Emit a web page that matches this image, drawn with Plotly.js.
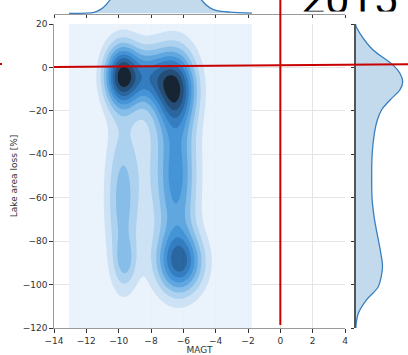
<!DOCTYPE html>
<html><head><meta charset="utf-8">
<script src="https://cdn.plot.ly/plotly-3.0.1.min.js"></script>
<style>html,body{margin:0;padding:0;background:#fff}#chart{width:408px;height:355px}</style>
</head><body><div id="chart"></div>
<script>
// Bivariate KDE of MAGT vs lake area loss, described by kernel blobs
const compX  = [-9.8, -6.5, -8.1, -6.2, -6.4, -9.8, -9.6, -8.0];
const compY  = [-4,   -9,   -4,   -90,  -50,  -62,  -90,  -45];
const compSX = [0.75, 0.9,  0.9,  1.0,  0.85, 0.7,  0.5,  1.5];
const compSY = [10,   12,   9,    10,   24,   25,   8,    30];
const compW  = [0.92, 0.8,  0.45, 0.68, 0.52, 0.32, 0.2,  0.12];
const kdeXRange = [-13.07, -1.76];
const kdeYRange = [-130, 30];
const levelStart = 0.1, levelEnd = 0.9, levelStep = 0.1;
const bandColors = ['#e9f2fb','#cbe2f5','#a8d0ef','#80bbe8','#58a3df','#3a8fd5','#2a77be','#1f5e9a','#194571','#0b1a29'];

// Marginal densities (relative)
const margXPos = [-13.07,-12.5,-12.0,-11.6,-11.35,-10.97,-10.54,-10.2,-9.8,-9.0,-8.0,-7.0,-6.0,-5.5,-5.2,-4.87,-4.35,-3.94,-3.12,-2.6,-2.08,-1.76];
const margXVal = [0.0,0.0,0.01,0.05,0.14,0.41,1.0,1.8,2.8,3.5,3.2,3.8,3.5,2.6,1.8,1.0,0.41,0.21,0.09,0.05,0.03,0.02];
const margYPos = [25,19.5,15.7,8,1.4,-2.7,-6.6,-10.4,-15,-19.6,-24.2,-30,-40,-52,-61,-70,-76,-85,-92,-101,-107,-113,-118,-125];
const margYVal = [0,0.0,0.09,0.37,0.78,0.94,1.0,0.94,0.73,0.55,0.46,0.40,0.35,0.34,0.35,0.40,0.45,0.53,0.57,0.48,0.23,0.06,0.01,0];

const xTicks = [-14,-12,-10,-8,-6,-4,-2,0,2,4];
const yTicks = [20,0,-20,-40,-60,-80,-100,-120];
const cornerText = ['2015'];

// density grid
const nx = 114, ny = 161;
const gx = [], gy = [], gz = [];
for (let i = 0; i < nx; i++) gx.push(kdeXRange[0] + i * (kdeXRange[1] - kdeXRange[0]) / (nx - 1));
for (let j = 0; j < ny; j++) gy.push(kdeYRange[0] + j * (kdeYRange[1] - kdeYRange[0]) / (ny - 1));
let zmax = 0;
for (let j = 0; j < ny; j++) {
  const row = [];
  for (let i = 0; i < nx; i++) {
    let v = 0;
    for (let k = 0; k < compX.length; k++) {
      const dx = (gx[i] - compX[k]) / compSX[k], dy = (gy[j] - compY[k]) / compSY[k];
      v += compW[k] * Math.exp(-0.5 * (dx * dx + dy * dy));
    }
    row.push(v); if (v > zmax) zmax = v;
  }
  gz.push(row);
}
for (const row of gz) for (let i = 0; i < row.length; i++) row[i] /= zmax;

const nb = bandColors.length - 1;
const cscale = [];
bandColors.forEach((c, k) => {
  cscale.push([Math.max(0, (k - 0.5) / nb), c]);
  cscale.push([Math.min(1, (k + 0.5) / nb), c]);
});

const tickFont = {family: 'DejaVu Sans', size: 9, color: '#333'};
const W = 408, H = 355;
const mainX = [54 / W, 345 / W], mainY = [(H - 328) / H, (H - 24) / H];

const traces = [
  {type: 'contour', x: gx, y: gy, z: gz, xaxis: 'x', yaxis: 'y',
   autocontour: false, contours: {start: levelStart, end: levelEnd, size: levelStep, coloring: 'fill', showlines: false},
   line: {width: 0}, colorscale: cscale, showscale: false, opacity: 0.95, hoverinfo: 'skip'},
  {type: 'scatter', mode: 'lines', x: margXPos, y: margXVal, xaxis: 'x2', yaxis: 'y2',
   line: {color: '#3a7fc0', width: 1.3, shape: 'spline', smoothing: 0.8},
   fill: 'tozeroy', fillcolor: 'rgba(31,119,180,0.27)', hoverinfo: 'skip'},
  {type: 'scatter', mode: 'lines', x: margYVal, y: margYPos, xaxis: 'x3', yaxis: 'y3',
   line: {color: '#3a7fc0', width: 1.3, shape: 'spline', smoothing: 0.8},
   fill: 'tozerox', fillcolor: 'rgba(31,119,180,0.27)', hoverinfo: 'skip'},
  // big title text, cut off at the top edge as in the picture
  {type: 'scatter', mode: 'text', x: [0], y: [0], text: cornerText, xaxis: 'x4', yaxis: 'y4',
   textposition: 'middle right', cliponaxis: true, hoverinfo: 'skip',
   textfont: {family: 'Roboto', size: 43, color: '#000'}}
];

const layout = {
  width: W, height: H, margin: {l: 0, r: 0, t: 0, b: 0},
  paper_bgcolor: '#fff', plot_bgcolor: 'rgba(0,0,0,0)', showlegend: false,
  font: {family: 'DejaVu Sans', color: '#333'},
  xaxis: {domain: mainX, range: [-14, 4], anchor: 'y', tickvals: xTicks, ticks: 'outside', ticklen: 3.5,
    tickcolor: '#333', showline: true, linecolor: '#9a9a9a', linewidth: 1.3, showgrid: true,
    gridcolor: '#e4e4e4', zeroline: false, tickfont: tickFont, automargin: false,
    title: {text: 'MAGT', font: {family: 'DejaVu Sans', size: 9, color: '#333'}, standoff: 3}},
  yaxis: {domain: mainY, range: [-120, 20], anchor: 'x', tickvals: yTicks, ticks: 'outside', ticklen: 3.5,
    tickcolor: '#333', showline: true, linecolor: '#9a9a9a', linewidth: 1.3, showgrid: true,
    gridcolor: '#e4e4e4', zeroline: false, tickfont: tickFont, automargin: false,
    title: {text: 'Lake area loss [%]', font: {family: 'DejaVu Sans', size: 9, color: '#333'}, standoff: 3}},
  xaxis2: {domain: mainX, range: [-14, 4], anchor: 'y2', tickvals: xTicks, ticks: 'outside', ticklen: 3,
    tickcolor: '#333', showline: true, linecolor: '#9a9a9a', linewidth: 1.3, showgrid: false,
    zeroline: false, showticklabels: false},
  yaxis2: {domain: [(H - 14) / H, 1], range: [-0.05, 1], anchor: 'x2', showline: false, showgrid: false,
    zeroline: false, showticklabels: false, ticks: ''},
  xaxis3: {domain: [355.7 / W, 1], range: [0, 52.3 / 47], anchor: 'y3', showline: false, showgrid: false,
    zeroline: false, showticklabels: false, ticks: ''},
  yaxis3: {domain: mainY, range: [-120, 20], anchor: 'x3', tickvals: yTicks, ticks: 'outside', ticklen: 3,
    tickcolor: '#333', showline: true, linecolor: '#555', linewidth: 1.3, showgrid: false,
    zeroline: false, showticklabels: false},
  xaxis4: {domain: [301 / W, 1], range: [0, 1], anchor: 'y4', visible: false, fixedrange: true},
  yaxis4: {domain: [(H - 11.5) / H, 1], range: [-1, 0.35], anchor: 'x4', visible: false, fixedrange: true},
  shapes: [
    {type: 'line', xref: 'x', yref: 'paper', x0: 0, x1: 0, y0: (H - 325) / H, y1: 1.01,
     line: {color: '#c80000', width: 2}, layer: 'above'},
    {type: 'line', xref: 'paper', yref: 'paper', x0: 54 / W, y0: (H - 67) / H, x1: 1.01, y1: (H - 64.3) / H,
     line: {color: '#c80000', width: 2}, layer: 'above'},
    {type: 'line', xref: 'paper', yref: 'paper', x0: 0, y0: (H - 64) / H, x1: 2 / W, y1: (H - 64) / H,
     line: {color: '#c80000', width: 2}, layer: 'above'}
  ]
};

Plotly.newPlot('chart', traces, layout, {displayModeBar: false, staticPlot: true});
</script></body></html>
